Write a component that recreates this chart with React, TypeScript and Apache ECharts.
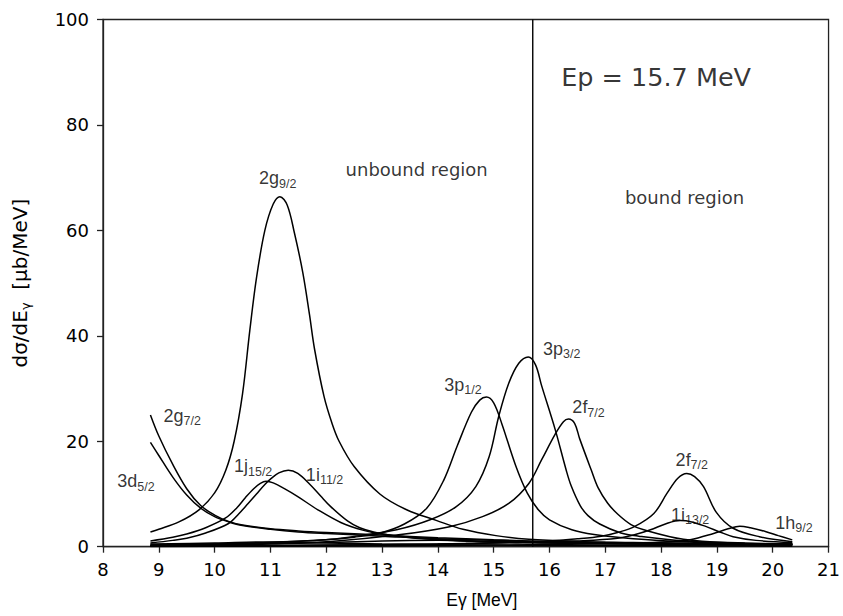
import React, { useEffect, useRef } from "react";
import * as echarts from "echarts";

// Axis ranges
const X_MIN = 8;
const X_MAX = 21;
const X_STEP = 1;
const Y_MIN = 0;
const Y_MAX = 100;
const Y_STEP = 20;

// Proton energy: separates the unbound and bound regions
const EP = 15.7;

// Partial cross sections dσ/dEγ [μb/MeV] vs Eγ [MeV]
const s2g92: [number, number][] = [
  [8.85, 2.8], [9.0, 3.3], [9.36, 4.7], [9.72, 7.0], [10.0, 10.2], [10.2, 14.5], [10.35, 20],
  [10.5, 29], [10.63, 41], [10.75, 51], [10.9, 60], [11.05, 65], [11.17, 66.4],
  [11.3, 64.8], [11.43, 59.5], [11.58, 52], [11.7, 44], [11.79, 37.5], [11.96, 28.5], [12.1, 23.5],
  [12.23, 20], [12.5, 15.2], [12.96, 10], [13.44, 7], [13.97, 5], [14.45, 3.3], [15.04, 2.1],
  [15.63, 1.4], [16.5, 1.0], [17.5, 0.8], [18.5, 0.6], [19.5, 0.5], [20.35, 0.4],
];
const s2g72: [number, number][] = [
  [8.85, 25], [9.0, 21], [9.25, 15.6], [9.5, 11], [9.75, 7.8], [10.0, 6.0], [10.25, 4.8],
  [10.5, 4.1], [11.0, 3.4], [11.5, 3.0], [12.0, 2.7], [13.0, 2.2], [14.0, 1.7], [15.0, 1.3],
  [16.0, 1.0], [17.0, 0.8], [18.0, 0.7], [19.0, 0.6], [20.35, 0.5],
];
const s3d52: [number, number][] = [
  [8.85, 19.8], [9.0, 17.3], [9.25, 13.2], [9.5, 9.8], [9.75, 7.3], [10.0, 5.7], [10.25, 4.7],
  [10.5, 4.0], [11.0, 3.3], [11.5, 2.8], [12.0, 2.5], [13.0, 2.0], [14.0, 1.5], [15.0, 1.2],
  [16.0, 0.9], [17.0, 0.7], [18.0, 0.6], [19.0, 0.5], [20.35, 0.4],
];
const s1j152: [number, number][] = [
  [8.85, 1.1], [9.25, 1.8], [9.5, 2.4], [9.84, 3.6], [10.19, 5.4], [10.4, 7.4], [10.55, 9.3],
  [10.7, 11.0], [10.82, 12.0], [10.92, 12.4], [11.05, 12.1], [11.25, 11.0], [11.49, 9.5],
  [11.85, 7.0], [12.26, 4.6], [12.67, 3.1], [13.0, 2.4], [13.5, 1.8], [14.5, 1.1], [15.5, 0.8],
  [16.5, 0.6], [18.0, 0.45], [20.35, 0.3],
];
const s1i112: [number, number][] = [
  [8.85, 0.7], [9.25, 1.2], [9.5, 1.6], [9.84, 2.6], [10.25, 4.4], [10.43, 6.2], [10.6, 8.2],
  [10.75, 10.0], [10.9, 11.8], [11.01, 12.9], [11.15, 14.0], [11.32, 14.5], [11.49, 13.9],
  [11.7, 11.9], [11.9, 9.6], [12.08, 7.6], [12.38, 4.9], [12.6, 3.6], [12.85, 2.8], [13.26, 2.0],
  [14.0, 1.3], [15.0, 0.9], [16.0, 0.7], [17.5, 0.5], [20.35, 0.3],
];
const s3p12: [number, number][] = [
  [8.85, 0.3], [10.0, 0.5], [11.0, 0.8], [12.0, 1.3], [12.5, 1.8], [12.97, 2.6], [13.4, 4.3],
  [13.8, 7.3], [14.1, 12.5], [14.35, 19.2], [14.6, 25.5], [14.75, 27.8], [14.87, 28.4],
  [15.0, 27.3], [15.15, 23.2], [15.39, 15.5], [15.6, 10.2], [15.8, 7.0], [16.0, 5.1], [16.4, 3.2],
  [16.8, 2.3], [17.5, 1.5], [18.5, 0.9], [19.5, 0.6], [20.35, 0.5],
];
const s3p32: [number, number][] = [
  [8.85, 0.3], [10.0, 0.5], [11.0, 0.8], [12.08, 1.4], [12.6, 2.1], [13.26, 3.2], [13.86, 5.1],
  [14.33, 7.6], [14.68, 11.4], [14.92, 17.1], [15.09, 24.7], [15.27, 31], [15.45, 34.8],
  [15.62, 36], [15.75, 34.5], [15.86, 30.5], [16.1, 22.3], [16.3, 14.5], [16.39, 11.5],
  [16.55, 7.8], [16.69, 5.9], [16.9, 4.3], [17.28, 2.6], [17.6, 2.0], [18.4, 1.1], [19.5, 0.7],
  [20.35, 0.5],
];
const s2f72a: [number, number][] = [
  [8.85, 0.2], [10.0, 0.4], [11.0, 0.6], [12.08, 1.0], [13.26, 2.2], [14.21, 3.8], [14.8, 5.7],
  [15.27, 8.2], [15.63, 12], [15.86, 16.5], [16.1, 21.3], [16.25, 23.7], [16.34, 24.2],
  [16.45, 23.4], [16.54, 20.5], [16.75, 14.5], [16.87, 11.2], [17.04, 8.3], [17.22, 6.2],
  [17.46, 4.2], [17.69, 3.2], [18.4, 1.4], [19.3, 0.7], [20.35, 0.5],
];
const s2f72b: [number, number][] = [
  [8.85, 0.1], [11.0, 0.2], [13.0, 0.4], [14.5, 0.6], [15.9, 1.0], [16.5, 1.5], [16.93, 2.0],
  [17.22, 2.7], [17.52, 3.8], [17.87, 6.3], [18.11, 10.2], [18.3, 13.0], [18.46, 13.9],
  [18.6, 13.3], [18.76, 11.4], [18.99, 6.5], [19.29, 3.5], [19.76, 1.9], [20.35, 0.95],
];
const s1i132: [number, number][] = [
  [8.85, 0.1], [12.0, 0.3], [14.0, 0.5], [15.5, 0.8], [16.5, 1.1], [17.22, 1.6], [17.6, 2.5],
  [17.81, 3.2], [18.1, 4.4], [18.34, 4.95], [18.55, 4.7], [18.81, 3.8], [19.05, 2.8],
  [19.29, 1.9], [19.7, 1.2], [20.35, 0.8],
];
const s1h92: [number, number][] = [
  [8.85, 0.05], [13.0, 0.2], [16.0, 0.4], [17.5, 0.7], [18.2, 1.0], [18.52, 1.3], [18.94, 2.5],
  [19.2, 3.4], [19.41, 3.9], [19.6, 3.6], [19.88, 2.85], [20.1, 2.1], [20.35, 1.3],
];
// weaker transitions that stay close to zero
const sWeakA: [number, number][] = [
  [8.85, 0.2], [10.0, 0.3], [11.0, 0.5], [12.0, 0.8], [13.0, 1.1], [14.0, 1.2], [15.0, 1.0],
  [16.0, 0.8], [17.0, 0.6], [18.0, 0.5], [19.0, 0.4], [20.35, 0.3],
];
const sWeakB: [number, number][] = [
  [8.85, 0.5], [10.0, 0.7], [11.0, 0.9], [12.0, 0.7], [13.0, 0.5], [15.0, 0.3], [17.0, 0.2],
  [20.35, 0.1],
];

const CURVES = [s2g92, s2g72, s3d52, s1j152, s1i112, s3p12, s3p32, s2f72a, s2f72b, s1i132, s1h92, sWeakA, sWeakB];

// Orbital labels: anchor (Eγ, dσ/dEγ), orbital, subscript j
const ORBITAL_LABELS: [number, number, string, string][] = [
  [11.13, 69.6, "2g", "9/2"],
  [9.42, 24.6, "2g", "7/2"],
  [8.59, 12.1, "3d", "5/2"],
  [10.69, 15.0, "1j", "15/2"],
  [11.97, 13.4, "1i", "11/2"],
  [14.45, 30.4, "3p", "1/2"],
  [16.22, 37.3, "3p", "3/2"],
  [16.7, 26.2, "2f", "7/2"],
  [18.55, 16.2, "2f", "7/2"],
  [18.52, 5.8, "1i", "13/2"],
  [20.38, 4.3, "1h", "9/2"],
];

const REGION_LABELS: [number, number, string][] = [
  [13.62, 71.5, "unbound region"],
  [18.42, 66.3, "bound region"],
];
const EP_LABEL_AT: [number, number] = [17.91, 89.0];

const INK = "#000";
const AXIS_INK = "#222";
const SANS = "DejaVu Sans";
const LABEL_FONT = "Liberation Sans";

export default function App() {
  const ref = useRef<HTMLDivElement>(null);

  useEffect(() => {
    if (!ref.current) return;
    const chart = echarts.init(ref.current, undefined, { renderer: "svg" });

    const curveSeries = CURVES.map((data) => ({
      type: "line",
      data,
      smooth: 0.35,
      showSymbol: false,
      symbol: "none",
      silent: true,
      lineStyle: { color: INK, width: 1.5 },
      z: 3,
    }));

    chart.setOption({
      animation: false,
      backgroundColor: "#fff",
      grid: {
        left: 103,
        right: 6,
        top: 19.5,
        bottom: 69.3,
        show: true,
        borderColor: AXIS_INK,
        borderWidth: 1.3,
        backgroundColor: "transparent",
      },
      xAxis: {
        type: "value",
        min: X_MIN,
        max: X_MAX,
        interval: X_STEP,
        name: "Eγ [MeV]",
        nameLocation: "middle",
        nameGap: 44,
        nameTextStyle: { fontFamily: LABEL_FONT, fontSize: 17.5, color: INK, padding: [0, 0, 0, 32] },
        axisLine: { show: true, lineStyle: { color: AXIS_INK, width: 1.3 } },
        axisTick: { show: true, length: 6, lineStyle: { color: AXIS_INK, width: 1.3 } },
        axisLabel: { fontFamily: SANS, fontSize: 18, color: INK, margin: 14 },
        splitLine: { show: false },
      },
      yAxis: {
        type: "value",
        min: Y_MIN,
        max: Y_MAX,
        interval: Y_STEP,
        name: "{a|dσ/dE}{s|γ}{a|  [μb/MeV]}",
        nameLocation: "middle",
        nameRotate: 90,
        nameGap: 71,
        nameTextStyle: {
          rich: {
            a: { fontFamily: SANS, fontSize: 20, color: INK, lineHeight: 22, padding: [0, 0, 5, 0], verticalAlign: "top" },
            s: { fontFamily: SANS, fontSize: 13, color: INK, lineHeight: 13, verticalAlign: "bottom" },
          },
        },
        axisLine: { show: true, lineStyle: { color: AXIS_INK, width: 1.3 } },
        axisTick: { show: true, length: 6, lineStyle: { color: AXIS_INK, width: 1.3 } },
        axisLabel: { fontFamily: SANS, fontSize: 18, color: INK, margin: 14 },
        splitLine: { show: false },
      },
      series: [
        ...curveSeries,
        {
          type: "line",
          data: [[EP, Y_MIN], [EP, Y_MAX]],
          showSymbol: false,
          symbol: "none",
          silent: true,
          lineStyle: { color: INK, width: 1.4 },
          z: 3,
        },
        {
          type: "scatter",
          symbolSize: 0,
          silent: true,
          z: 5,
          data: ORBITAL_LABELS.map(([e, v, orb, j]) => ({
            value: [e, v],
            label: { formatter: `{m|${orb}}{s|${j}}` },
          })),
          label: {
            show: true,
            position: "inside",
            color: INK,
            rich: {
              m: { fontFamily: LABEL_FONT, fontSize: 18, color: INK, lineHeight: 21, padding: [0, 0, 5, 0], verticalAlign: "top" },
              s: { fontFamily: LABEL_FONT, fontSize: 12.5, color: INK, lineHeight: 12.5, verticalAlign: "bottom" },
            },
          },
        },
        {
          type: "scatter",
          symbolSize: 0,
          silent: true,
          z: 5,
          data: REGION_LABELS.map(([e, v, txt]) => ({ value: [e, v], label: { formatter: txt } })),
          label: { show: true, position: "inside", fontFamily: SANS, fontSize: 18, color: INK },
        },
        {
          type: "scatter",
          symbolSize: 0,
          silent: true,
          z: 5,
          data: [{ value: EP_LABEL_AT, label: { formatter: `Ep = ${EP} MeV` } }],
          label: { show: true, position: "inside", fontFamily: SANS, fontSize: 25.5, color: INK },
        },
      ],
    });

    return () => chart.dispose();
  }, []);

  return (
    <div
      ref={ref}
      style={{ position: "fixed", left: 0, top: 0, width: 843, height: 616, background: "#fff" }}
    />
  );
}
